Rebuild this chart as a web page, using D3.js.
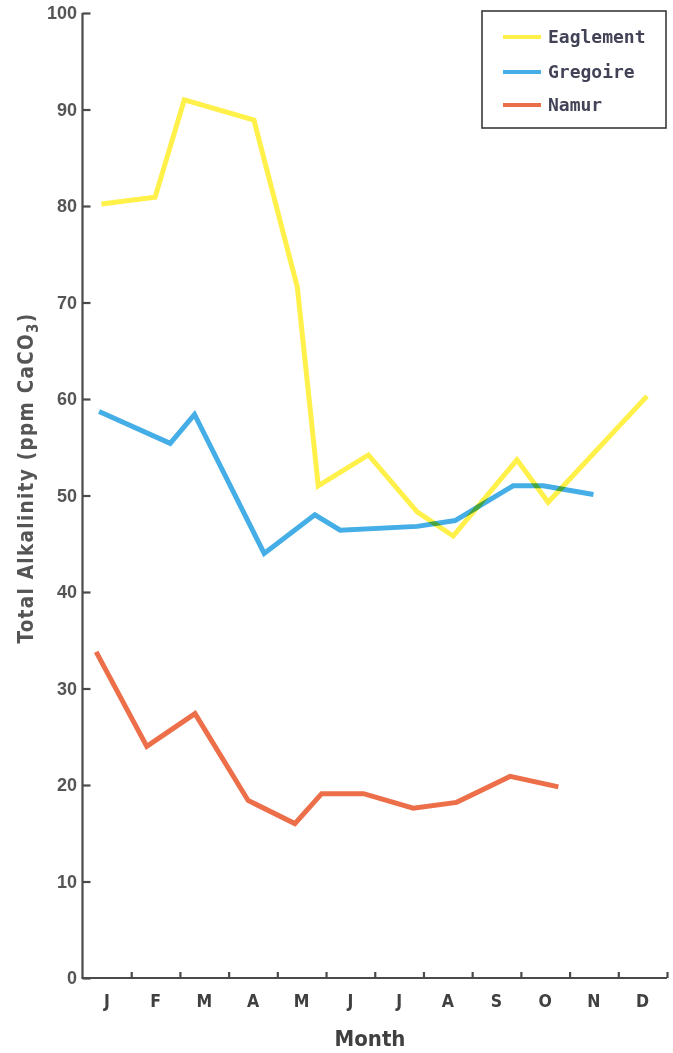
<!DOCTYPE html>
<html>
<head>
<meta charset="utf-8">
<script src="https://cdn.jsdelivr.net/npm/d3@7"></script>
<style>
  html, body { margin: 0; padding: 0; background: #fff; }
  svg { display: block; }
  .series { mix-blend-mode: multiply; }
</style>
</head>
<body>
<svg id="chart" width="673" height="1053"></svg>
<script>
// Month labels along the bottom axis
const monthLabels = ["J", "F", "M", "A", "M", "J", "J", "A", "S", "O", "N", "D"];
const yTicks = [0, 10, 20, 30, 40, 50, 60, 70, 80, 90, 100];

// Sampling dates expressed as fractional months (0 = start of January)
const eaglementMonth = [0.39, 1.49, 2.09, 3.52, 4.41, 4.84, 5.87, 6.87, 7.61, 8.92, 9.56, 11.59];
const eaglementVals  = [80.2, 80.9, 91.0, 88.9, 71.6, 51.0, 54.2, 48.3, 45.8, 53.7, 49.3, 60.3];

const gregoireMonth = [0.34, 1.80, 2.30, 3.73, 4.77, 5.29, 6.87, 7.65, 8.84, 9.46, 10.49];
const gregoireVals  = [58.7, 55.4, 58.4, 44.0, 48.0, 46.4, 46.8, 47.4, 51.0, 51.0, 50.1];

const namurMonth = [0.28, 1.32, 2.31, 3.40, 4.36, 4.91, 5.77, 6.79, 7.68, 8.78, 9.77];
const namurVals  = [33.8, 24.0, 27.4, 18.4, 16.0, 19.1, 19.1, 17.6, 18.2, 20.9, 19.8];

const seriesNames  = ["Eaglement", "Gregoire", "Namur"];
const seriesColors = ["#fff04a", "#45aee6", "#ec6f4a"];

const svg = d3.select("#chart");
const axisColor = "#4a4a4a";
const condensed = "Liberation Sans Narrow, DejaVu Sans Condensed, sans-serif";

const x = d3.scaleLinear().domain([0, 12]).range([82.5, 667]);
const y = d3.scaleLinear().domain([0, 100]).range([978, 13]);

// Y axis: ticks pointing into the plot
const yAxis = svg.append("g")
  .attr("transform", `translate(${x(0)},0)`)
  .call(d3.axisRight(y).tickValues(yTicks).tickSize(8).tickFormat(""));
yAxis.select(".domain").attr("stroke", axisColor).attr("stroke-width", 2.2)
  .attr("d", `M0,${y(100)}V${y(0)}`);
yAxis.selectAll(".tick line").attr("stroke", axisColor).attr("stroke-width", 2.2);

svg.append("g").selectAll("text")
  .data(yTicks).join("text")
  .attr("x", 77).attr("y", d => y(d))
  .attr("dy", "0.36em")
  .attr("text-anchor", "end")
  .attr("font-family", "Liberation Sans, Arial, sans-serif")
  .attr("font-weight", "bold")
  .attr("font-size", 18)
  .attr("fill", "#555555")
  .text(d => d);

// X axis: month boundaries with short upward ticks
const xAxis = svg.append("g")
  .attr("transform", `translate(0,${y(0)})`)
  .call(d3.axisTop(x).tickValues(d3.range(1, 13)).tickSize(6).tickFormat(""));
xAxis.select(".domain").attr("stroke", axisColor).attr("stroke-width", 2.2)
  .attr("d", `M${x(0) - 1},0H${x(12)}`);
xAxis.selectAll(".tick line").attr("stroke", axisColor).attr("stroke-width", 2.2);

svg.append("g").selectAll("text")
  .data(monthLabels).join("text")
  .attr("x", (d, i) => x(i + 0.5))
  .attr("y", 1007)
  .attr("text-anchor", "middle")
  .attr("font-family", condensed)
  .attr("font-weight", "bold")
  .attr("font-size", 17.5)
  .attr("fill", "#404040")
  .text(d => d);

svg.append("text")
  .attr("x", 370).attr("y", 1046)
  .attr("text-anchor", "middle")
  .attr("font-family", condensed)
  .attr("font-weight", "bold")
  .attr("font-size", 22)
  .attr("fill", "#404040")
  .text("Month");

// Y axis title with subscript
const yTitle = svg.append("text")
  .attr("transform", "translate(33,478) rotate(-90)")
  .attr("text-anchor", "middle")
  .attr("font-family", condensed)
  .attr("font-weight", "bold")
  .attr("font-size", 20.5)
  .attr("letter-spacing", 1.3)
  .attr("fill", "#555555");
yTitle.append("tspan").text("Total Alkalinity (ppm CaCO");
yTitle.append("tspan").attr("dy", 5).attr("font-size", 15).text("3");
yTitle.append("tspan").attr("dy", -5).text(")");

// Series lines
const line = d3.line().x(d => x(d[0])).y(d => y(d[1]));
const seriesData = [
  d3.zip(eaglementMonth, eaglementVals),
  d3.zip(gregoireMonth, gregoireVals),
  d3.zip(namurMonth, namurVals)
];
svg.append("g").selectAll("path")
  .data(seriesData).join("path")
  .attr("class", "series")
  .attr("d", line)
  .attr("fill", "none")
  .attr("stroke", (d, i) => seriesColors[i])
  .attr("stroke-width", 5)
  .attr("stroke-linejoin", "miter");

// Legend
const legend = svg.append("g");
legend.append("rect")
  .attr("x", 482).attr("y", 11).attr("width", 184).attr("height", 117)
  .attr("fill", "none").attr("stroke", "#3a3a3a").attr("stroke-width", 1.6);
const legendRows = [37, 72, 105];
seriesNames.forEach((name, i) => {
  legend.append("line")
    .attr("x1", 503).attr("x2", 541)
    .attr("y1", legendRows[i]).attr("y2", legendRows[i])
    .attr("stroke", seriesColors[i]).attr("stroke-width", 4);
  legend.append("text")
    .attr("x", 548).attr("y", legendRows[i])
    .attr("dy", "0.35em")
    .attr("font-family", "DejaVu Sans Mono, Liberation Mono, monospace")
    .attr("font-weight", "bold")
    .attr("font-size", 18)
    .attr("fill", "#434358")
    .text(name);
});
</script>
</body>
</html>
